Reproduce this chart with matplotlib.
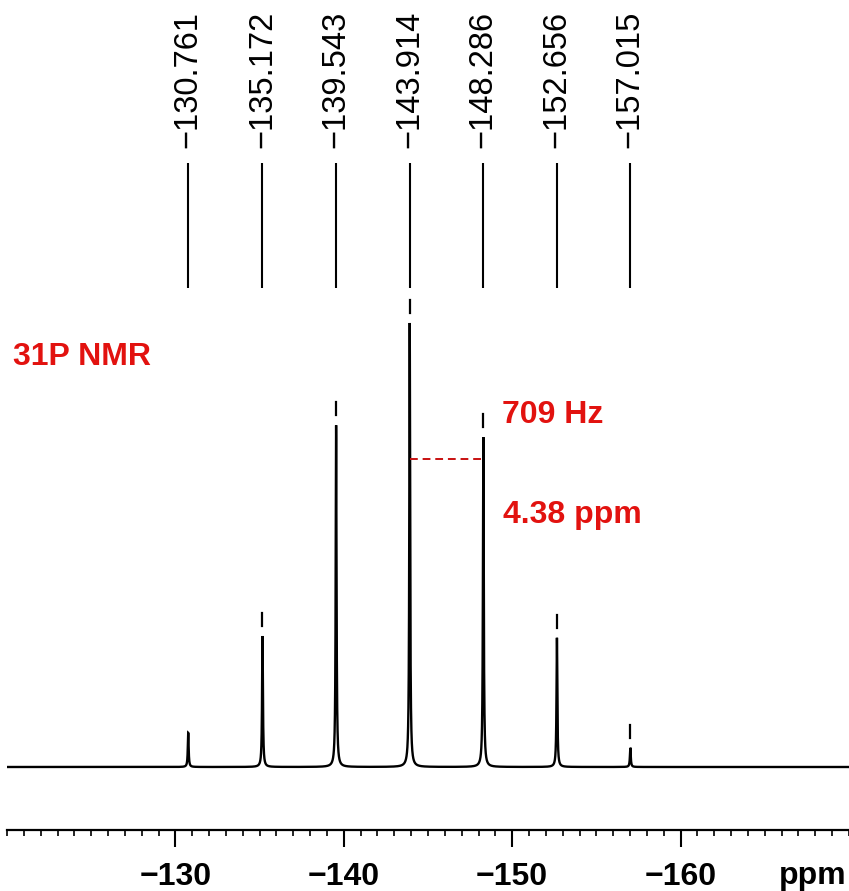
import numpy as np
import matplotlib
matplotlib.use("Agg")
import matplotlib.pyplot as plt
from matplotlib.ticker import MultipleLocator

plt.rcParams['font.family'] = ['Liberation Sans', 'DejaVu Sans']

# 31P resonances: chemical shift (ppm) and relative intensity (tallest = 100)
shifts = [-130.761, -135.172, -139.543, -143.914, -148.286, -152.656, -157.015]
intensities = [7.7, 29.5, 77.0, 100.0, 74.3, 29.1, 4.3]
picked = [False, True, True, True, True, True, True]
shift_labels = ["\u2212130.761", "\u2212135.172", "\u2212139.543", "\u2212143.914",
                "\u2212148.286", "\u2212152.656", "\u2212157.015"]

x_ticks = [-130, -140, -150, -160]
x_tick_labels = ["\u2212130", "\u2212140", "\u2212150", "\u2212160"]

coupling_pair = (-143.914, -148.286)
coupling_level = 69.4

RED = "#e2120f"
W, H = 849, 891
fig = plt.figure(figsize=(W / 100, H / 100), dpi=100)
ax = fig.add_axes([7 / W, (H - 830) / H, 1 - 7 / W, 830 / H])

# Lorentzian line shapes on a fine ppm grid
half_width = 0.03
grid = np.linspace(-120, -170, 30000)
spectrum = np.zeros_like(grid)
for s, h in zip(shifts, intensities):
    spectrum += h * half_width**2 / ((grid - s) ** 2 + half_width**2)
ax.plot(grid, spectrum, color="black", lw=1.7, solid_joinstyle="miter")

# peak-pick markers above each picked maximum
for s, h, p in zip(shifts, intensities, picked):
    if p:
        ax.plot([s, s], [h + 2.3, h + 5.2], color="black", lw=1.6)

# peak list: leader lines and rotated shift labels
ax.vlines(shifts, 107.9, 136.0, color="black", lw=1.5)
for s, lab in zip(shifts, shift_labels):
    ax.text(s, 139.4, lab, rotation=90, ha="center", va="bottom",
            fontsize=23.5, color="black")

# coupling annotation
ax.plot(coupling_pair, [coupling_level, coupling_level], color="#c81010",
        lw=1.4, ls=(0, (4, 2.5)))
ax.text(-149.39, 77.5, "709 Hz", color=RED, fontsize=23, fontweight="bold",
        ha="left", va="baseline")
ax.text(-149.45, 55.0, "4.38 ppm", color=RED, fontsize=23, fontweight="bold",
        ha="left", va="baseline")
ax.text(-120.36, 90.5, "31P NMR", color=RED, fontsize=23, fontweight="bold",
        ha="left", va="baseline")

ax.set_xlim(-120, -170)
ax.set_ylim(-14.19, 172.75)

for side in ["top", "left", "right"]:
    ax.spines[side].set_visible(False)
ax.spines["bottom"].set_linewidth(1.6)
ax.set_yticks([])
ax.set_xticks(x_ticks)
ax.set_xticklabels(x_tick_labels, fontsize=23, fontweight="bold")
ax.xaxis.set_minor_locator(MultipleLocator(1))
ax.tick_params(axis="x", which="major", direction="out", length=12.5, width=1.5, pad=10.5)
ax.tick_params(axis="x", which="minor", direction="out", length=4, width=1.2)

# unit label on the tick-label row, at the right end of the axis
ax.annotate("ppm", xy=(-167.85, 0), xycoords=ax.get_xaxis_transform(),
            xytext=(0, -54), textcoords="offset pixels",
            fontsize=23, fontweight="bold", ha="center", va="baseline")
ax.patch.set_visible(False)

fig.savefig("out.png", dpi=100, facecolor="white")
